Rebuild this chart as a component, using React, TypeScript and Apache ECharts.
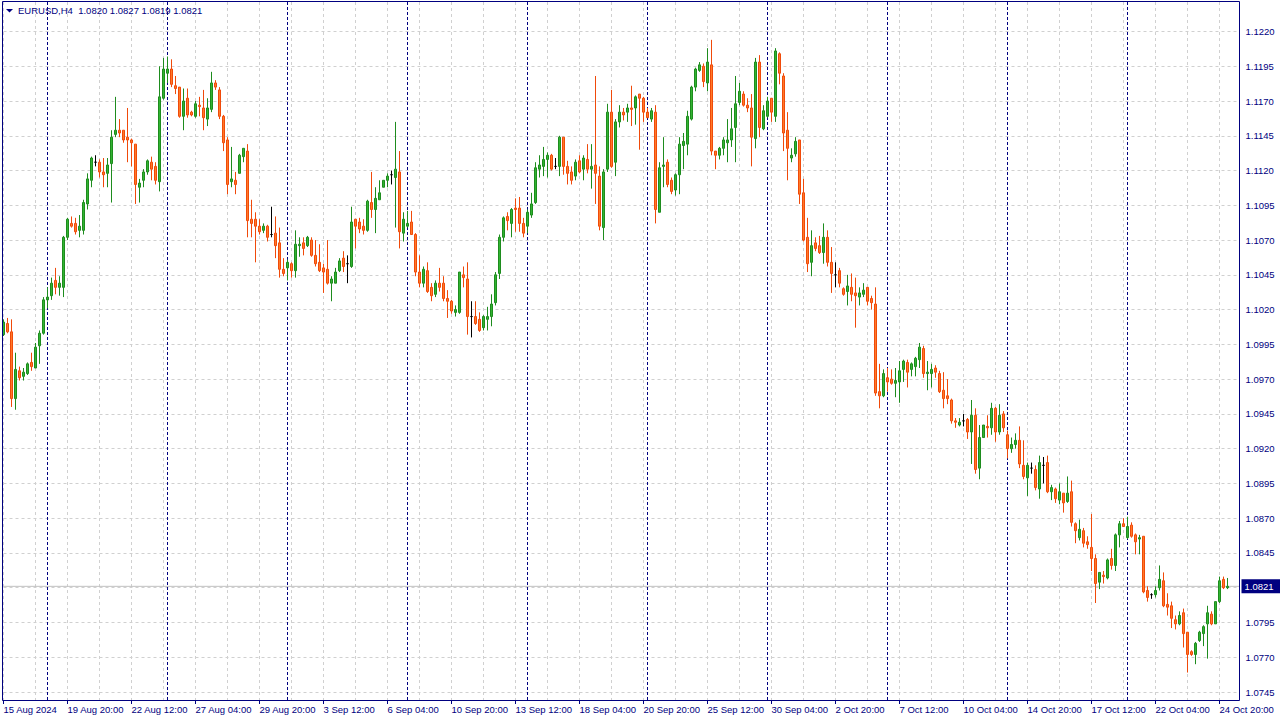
import React, { useEffect, useRef } from "react";
import * as echarts from "echarts";

const SYMBOL_TITLE = "EURUSD,H4";

const OPEN = [
  1.1002, 1.1010, 1.1004, 1.0956, 1.0976, 1.0972, 1.0974, 1.0982, 1.0978, 1.0994,
  1.1003, 1.1027, 1.1030, 1.1041, 1.1036, 1.1036, 1.1072, 1.1082, 1.1082, 1.1077,
  1.1077, 1.1096, 1.1113, 1.1126, 1.1126, 1.1119, 1.1118, 1.1125, 1.1146, 1.1149,
  1.1149, 1.1144, 1.1142, 1.1139, 1.1108, 1.1113, 1.1119, 1.1126, 1.1123, 1.1112,
  1.1172, 1.1190, 1.1193, 1.1181, 1.1180, 1.1159, 1.1172, 1.1162, 1.1159, 1.1167,
  1.1165, 1.1157, 1.1164, 1.1183, 1.1178, 1.1159, 1.1142, 1.1112, 1.1113, 1.1118,
  1.1130, 1.1134, 1.1085, 1.1085, 1.1080, 1.1077, 1.1080, 1.1074, 1.1075, 1.1068,
  1.1049, 1.1050, 1.1053, 1.1048, 1.1066, 1.1068, 1.1066, 1.1070, 1.1059, 1.1054,
  1.1050, 1.1049, 1.1039, 1.1039, 1.1048, 1.1057, 1.1053, 1.1051, 1.1085, 1.1083,
  1.1080, 1.1077, 1.1097, 1.1092, 1.1099, 1.1108, 1.1113, 1.1117, 1.1115, 1.1119,
  1.1075, 1.1080, 1.1083, 1.1074, 1.1047, 1.1039, 1.1048, 1.1036, 1.1031, 1.1039,
  1.1039, 1.1028, 1.1026, 1.1018, 1.1018, 1.1045, 1.1042, 1.1015, 1.1015, 1.1013,
  1.1007, 1.1013, 1.1015, 1.1025, 1.1046, 1.1072, 1.1087, 1.1082, 1.1093, 1.1093,
  1.1082, 1.1080, 1.1088, 1.1097, 1.1121, 1.1123, 1.1128, 1.1131, 1.1123, 1.1123,
  1.1144, 1.1123, 1.1119, 1.1116, 1.1127, 1.1121, 1.1128, 1.1121, 1.1124, 1.1116,
  1.1079, 1.1121, 1.1162, 1.1126, 1.1155, 1.1162, 1.1162, 1.1165, 1.1165, 1.1175,
  1.1172, 1.1162, 1.1157, 1.1162, 1.1090, 1.1123, 1.1126, 1.1113, 1.1106, 1.1117,
  1.1138, 1.1139, 1.1157, 1.1180, 1.1192, 1.1195, 1.1183, 1.1196, 1.1134, 1.1131,
  1.1136, 1.1140, 1.1142, 1.1151, 1.1169, 1.1175, 1.1167, 1.1165, 1.1143, 1.1198,
  1.1150, 1.1159, 1.1172, 1.1159, 1.1204, 1.1188, 1.1149, 1.1129, 1.1132, 1.1142,
  1.1104, 1.1072, 1.1054, 1.1068, 1.1066, 1.1061, 1.1072, 1.1054, 1.1045, 1.1048,
  1.1035, 1.1033, 1.1036, 1.1032, 1.1029, 1.1031, 1.1036, 1.1028, 1.1024, 1.0961,
  1.0958, 1.0971, 1.0970, 1.0967, 1.0968, 1.0977, 1.0982, 1.0977, 1.0979, 1.0984,
  1.0992, 1.0974, 1.0974, 1.0978, 1.0974, 1.0962, 1.0958, 1.0955, 1.0940, 1.0937,
  1.0940, 1.0941, 1.0932, 1.0944, 1.0906, 1.0928, 1.0936, 1.0935, 1.0949, 1.0932,
  1.0945, 1.0930, 1.0920, 1.0923, 1.0926, 1.0908, 1.0899, 1.0906, 1.0905, 1.0891,
  1.0908, 1.0910, 1.0889, 1.0891, 1.0883, 1.0888, 1.0882, 1.0889, 1.0866, 1.0856,
  1.0861, 1.0853, 1.0849, 1.0841, 1.0824, 1.0829, 1.0827, 1.0841, 1.0836, 1.0858,
  1.0866, 1.0856, 1.0865, 1.0858, 1.0855, 1.0857, 1.0818, 1.0815, 1.0815, 1.0820,
  1.0825, 1.0808, 1.0807, 1.0797, 1.0794, 1.0802, 1.0788, 1.0774, 1.0772, 1.0782,
  1.0787, 1.0794, 1.0801, 1.0794, 1.0810, 1.0826, 1.0820,
];

const HIGH = [
  1.1013, 1.1014, 1.1013, 1.0989, 1.0979, 1.0978, 1.0982, 1.0989, 1.0996, 1.1005,
  1.1029, 1.1036, 1.1043, 1.1050, 1.1044, 1.1073, 1.1086, 1.1087, 1.1086, 1.1088,
  1.1099, 1.1118, 1.1130, 1.1131, 1.1128, 1.1129, 1.1129, 1.1149, 1.1173, 1.1157,
  1.1149, 1.1165, 1.1143, 1.1139, 1.1114, 1.1121, 1.1128, 1.1130, 1.1126, 1.1195,
  1.1201, 1.1202, 1.1200, 1.1188, 1.1180, 1.1179, 1.1179, 1.1163, 1.1170, 1.1173,
  1.1178, 1.1172, 1.1191, 1.1185, 1.1180, 1.1160, 1.1144, 1.1137, 1.1119, 1.1132,
  1.1136, 1.1139, 1.1099, 1.1090, 1.1085, 1.1082, 1.1081, 1.1094, 1.1087, 1.1079,
  1.1057, 1.1056, 1.1054, 1.1077, 1.1072, 1.1072, 1.1073, 1.1072, 1.1070, 1.1067,
  1.1053, 1.1070, 1.1044, 1.1050, 1.1057, 1.1062, 1.1059, 1.1094, 1.1085, 1.1086,
  1.1085, 1.1099, 1.1119, 1.1108, 1.1113, 1.1113, 1.1118, 1.1120, 1.1155, 1.1134,
  1.1090, 1.1091, 1.1091, 1.1075, 1.1059, 1.1051, 1.1054, 1.1039, 1.1041, 1.1050,
  1.1044, 1.1034, 1.1027, 1.1023, 1.1047, 1.1051, 1.1054, 1.1026, 1.1026, 1.1018,
  1.1016, 1.1022, 1.1031, 1.1047, 1.1074, 1.1087, 1.1090, 1.1093, 1.1100, 1.1101,
  1.1086, 1.1092, 1.1104, 1.1126, 1.1131, 1.1137, 1.1133, 1.1132, 1.1129, 1.1145,
  1.1144, 1.1127, 1.1123, 1.1128, 1.1131, 1.1131, 1.1139, 1.1139, 1.1188, 1.1123,
  1.1121, 1.1168, 1.1178, 1.1157, 1.1167, 1.1165, 1.1168, 1.1181, 1.1174, 1.1175,
  1.1173, 1.1165, 1.1165, 1.1167, 1.1126, 1.1144, 1.1128, 1.1115, 1.1118, 1.1144,
  1.1147, 1.1163, 1.1181, 1.1194, 1.1198, 1.1197, 1.1208, 1.1214, 1.1134, 1.1137,
  1.1144, 1.1157, 1.1165, 1.1188, 1.1183, 1.1177, 1.1172, 1.1175, 1.1201, 1.1203,
  1.1167, 1.1173, 1.1172, 1.1208, 1.1205, 1.1190, 1.1162, 1.1136, 1.1144, 1.1142,
  1.1114, 1.1086, 1.1077, 1.1072, 1.1073, 1.1082, 1.1077, 1.1065, 1.1054, 1.1050,
  1.1036, 1.1045, 1.1046, 1.1043, 1.1036, 1.1039, 1.1036, 1.1030, 1.1036, 1.0981,
  1.0977, 1.0978, 1.0977, 1.0978, 1.0983, 1.0984, 1.0984, 1.0982, 1.0986, 1.0996,
  1.0994, 1.0983, 1.0981, 1.0980, 1.0976, 1.0975, 1.0970, 1.0956, 1.0942, 1.0942,
  1.0945, 1.0942, 1.0955, 1.0949, 1.0937, 1.0937, 1.0944, 1.0953, 1.0950, 1.0952,
  1.0947, 1.0933, 1.0928, 1.0931, 1.0936, 1.0926, 1.0910, 1.0910, 1.0908, 1.0915,
  1.0914, 1.0915, 1.0894, 1.0892, 1.0895, 1.0888, 1.0900, 1.0897, 1.0867, 1.0869,
  1.0863, 1.0857, 1.0873, 1.0844, 1.0831, 1.0832, 1.0841, 1.0848, 1.0859, 1.0868,
  1.0870, 1.0871, 1.0867, 1.0859, 1.0858, 1.0857, 1.0821, 1.0816, 1.0821, 1.0836,
  1.0831, 1.0816, 1.0810, 1.0800, 1.0803, 1.0805, 1.0788, 1.0775, 1.0781, 1.0789,
  1.0793, 1.0807, 1.0803, 1.0810, 1.0828, 1.0828, 1.0827,
];

const LOW = [
  1.1001, 1.1003, 1.0950, 1.0948, 1.0969, 1.0969, 1.0973, 1.0976, 1.0978, 1.0981,
  1.1002, 1.1021, 1.1027, 1.1031, 1.1030, 1.1029, 1.1070, 1.1079, 1.1074, 1.1072,
  1.1074, 1.1092, 1.1108, 1.1123, 1.1115, 1.1108, 1.1108, 1.1097, 1.1144, 1.1144,
  1.1140, 1.1126, 1.1123, 1.1096, 1.1097, 1.1108, 1.1117, 1.1113, 1.1110, 1.1105,
  1.1171, 1.1183, 1.1180, 1.1175, 1.1158, 1.1149, 1.1158, 1.1159, 1.1158, 1.1159,
  1.1149, 1.1152, 1.1162, 1.1178, 1.1157, 1.1134, 1.1103, 1.1108, 1.1103, 1.1118,
  1.1126, 1.1072, 1.1072, 1.1054, 1.1074, 1.1075, 1.1069, 1.1072, 1.1057, 1.1043,
  1.1044, 1.1041, 1.1043, 1.1043, 1.1058, 1.1059, 1.1065, 1.1058, 1.1051, 1.1047,
  1.1032, 1.1038, 1.1026, 1.1039, 1.1047, 1.1047, 1.1039, 1.1050, 1.1064, 1.1075,
  1.1074, 1.1076, 1.1086, 1.1075, 1.1099, 1.1108, 1.1108, 1.1110, 1.1079, 1.1064,
  1.1069, 1.1079, 1.1074, 1.1044, 1.1036, 1.1036, 1.1032, 1.1026, 1.1029, 1.1033,
  1.1026, 1.1014, 1.1017, 1.1015, 1.1017, 1.1036, 1.1002, 1.1000, 1.1009, 1.1004,
  1.1005, 1.1005, 1.1008, 1.1023, 1.1042, 1.1069, 1.1077, 1.1072, 1.1076, 1.1076,
  1.1072, 1.1075, 1.1086, 1.1096, 1.1115, 1.1116, 1.1115, 1.1120, 1.1121, 1.1116,
  1.1117, 1.1110, 1.1110, 1.1113, 1.1118, 1.1113, 1.1118, 1.1107, 1.1096, 1.1077,
  1.1070, 1.1119, 1.1122, 1.1116, 1.1151, 1.1156, 1.1155, 1.1152, 1.1153, 1.1135,
  1.1155, 1.1158, 1.1155, 1.1082, 1.1090, 1.1108, 1.1108, 1.1103, 1.1102, 1.1103,
  1.1121, 1.1131, 1.1156, 1.1177, 1.1191, 1.1180, 1.1177, 1.1131, 1.1121, 1.1128,
  1.1131, 1.1126, 1.1137, 1.1126, 1.1167, 1.1166, 1.1162, 1.1123, 1.1136, 1.1144,
  1.1149, 1.1158, 1.1155, 1.1155, 1.1182, 1.1134, 1.1113, 1.1126, 1.1130, 1.1096,
  1.1069, 1.1047, 1.1044, 1.1062, 1.1060, 1.1053, 1.1051, 1.1032, 1.1036, 1.1036,
  1.1030, 1.1023, 1.1026, 1.1007, 1.1023, 1.1029, 1.1023, 1.1020, 1.0958, 1.0949,
  1.0957, 1.0961, 1.0966, 1.0957, 1.0953, 1.0968, 1.0964, 1.0972, 1.0972, 1.0978,
  1.0971, 1.0962, 1.0964, 1.0971, 1.0960, 1.0949, 1.0952, 1.0938, 1.0935, 1.0936,
  1.0936, 1.0927, 1.0909, 1.0902, 1.0898, 1.0928, 1.0928, 1.0930, 1.0925, 1.0930,
  1.0932, 1.0913, 1.0917, 1.0920, 1.0906, 1.0898, 1.0886, 1.0902, 1.0890, 1.0884,
  1.0895, 1.0888, 1.0883, 1.0881, 1.0880, 1.0874, 1.0881, 1.0864, 1.0852, 1.0854,
  1.0849, 1.0848, 1.0832, 1.0809, 1.0819, 1.0823, 1.0826, 1.0833, 1.0832, 1.0849,
  1.0864, 1.0855, 1.0856, 1.0844, 1.0844, 1.0816, 1.0810, 1.0812, 1.0813, 1.0818,
  1.0806, 1.0800, 1.0791, 1.0790, 1.0793, 1.0777, 1.0759, 1.0771, 1.0765, 1.0781,
  1.0778, 1.0769, 1.0793, 1.0794, 1.0809, 1.0819, 1.0819,
];

const CLOSE = [
  1.1011, 1.1004, 1.0956, 1.0977, 1.0971, 1.0975, 1.0981, 1.0979, 1.0993, 1.1003,
  1.1027, 1.1029, 1.1039, 1.1036, 1.1039, 1.1072, 1.1085, 1.1080, 1.1076, 1.1080,
  1.1097, 1.1114, 1.1129, 1.1126, 1.1119, 1.1117, 1.1124, 1.1144, 1.1149, 1.1147,
  1.1142, 1.1142, 1.1140, 1.1110, 1.1111, 1.1119, 1.1127, 1.1121, 1.1113, 1.1173,
  1.1193, 1.1193, 1.1182, 1.1179, 1.1159, 1.1170, 1.1160, 1.1160, 1.1168, 1.1166,
  1.1158, 1.1165, 1.1183, 1.1180, 1.1159, 1.1140, 1.1110, 1.1114, 1.1110, 1.1131,
  1.1136, 1.1084, 1.1082, 1.1080, 1.1076, 1.1080, 1.1072, 1.1074, 1.1066, 1.1049,
  1.1046, 1.1054, 1.1048, 1.1067, 1.1067, 1.1064, 1.1072, 1.1059, 1.1053, 1.1048,
  1.1047, 1.1039, 1.1042, 1.1047, 1.1055, 1.1051, 1.1053, 1.1083, 1.1080, 1.1078,
  1.1077, 1.1098, 1.1092, 1.1100, 1.1104, 1.1113, 1.1116, 1.1117, 1.1121, 1.1076,
  1.1085, 1.1082, 1.1074, 1.1047, 1.1039, 1.1049, 1.1033, 1.1030, 1.1039, 1.1036,
  1.1028, 1.1026, 1.1019, 1.1020, 1.1047, 1.1043, 1.1015, 1.1015, 1.1010, 1.1005,
  1.1015, 1.1015, 1.1024, 1.1045, 1.1072, 1.1086, 1.1084, 1.1092, 1.1092, 1.1082,
  1.1075, 1.1090, 1.1096, 1.1122, 1.1124, 1.1128, 1.1131, 1.1121, 1.1123, 1.1144,
  1.1123, 1.1118, 1.1113, 1.1126, 1.1119, 1.1129, 1.1121, 1.1123, 1.1118, 1.1080,
  1.1119, 1.1162, 1.1123, 1.1155, 1.1162, 1.1160, 1.1165, 1.1164, 1.1173, 1.1172,
  1.1162, 1.1158, 1.1163, 1.1092, 1.1122, 1.1124, 1.1110, 1.1105, 1.1117, 1.1139,
  1.1141, 1.1159, 1.1180, 1.1193, 1.1196, 1.1184, 1.1198, 1.1134, 1.1131, 1.1136,
  1.1142, 1.1142, 1.1150, 1.1168, 1.1177, 1.1167, 1.1165, 1.1144, 1.1198, 1.1151,
  1.1163, 1.1170, 1.1162, 1.1206, 1.1190, 1.1147, 1.1136, 1.1131, 1.1141, 1.1103,
  1.1070, 1.1053, 1.1066, 1.1064, 1.1061, 1.1072, 1.1054, 1.1046, 1.1045, 1.1039,
  1.1031, 1.1037, 1.1031, 1.1030, 1.1032, 1.1034, 1.1026, 1.1025, 1.0960, 1.0958,
  1.0974, 1.0968, 1.0967, 1.0969, 1.0976, 1.0983, 1.0975, 1.0981, 1.0985, 1.0993,
  1.0974, 1.0975, 1.0977, 1.0975, 1.0961, 1.0956, 1.0956, 1.0940, 1.0939, 1.0939,
  1.0940, 1.0932, 1.0944, 1.0905, 1.0928, 1.0937, 1.0935, 1.0949, 1.0932, 1.0944,
  1.0935, 1.0920, 1.0923, 1.0926, 1.0909, 1.0900, 1.0908, 1.0906, 1.0892, 1.0910,
  1.0908, 1.0889, 1.0892, 1.0884, 1.0889, 1.0881, 1.0888, 1.0867, 1.0861, 1.0862,
  1.0852, 1.0851, 1.0841, 1.0823, 1.0831, 1.0828, 1.0840, 1.0836, 1.0858, 1.0866,
  1.0864, 1.0864, 1.0857, 1.0853, 1.0856, 1.0817, 1.0813, 1.0815, 1.0818, 1.0826,
  1.0807, 1.0806, 1.0798, 1.0794, 1.0800, 1.0787, 1.0772, 1.0772, 1.0780, 1.0788,
  1.0792, 1.0802, 1.0794, 1.0810, 1.0825, 1.0820, 1.0821,
];

// price scale ticks (right axis)
const Y_TICK_MIN = 1.0745;
const Y_TICK_MAX = 1.122;
const Y_TICK_STEP = 0.0025;

// time axis: H4 bars, first visible bar 15 Aug 2024 04:00, weekends skipped
const FIRST_BAR_UTC = Date.UTC(2024, 7, 15, 4, 0);
const BAR_HOURS = 4;
const EMPTY_BARS_RIGHT = 3;
const LABEL_EVERY_BARS = 16;
const VGRID_EVERY_BARS = 8;
const MONTHS = ["Jan", "Feb", "Mar", "Apr", "May", "Jun", "Jul", "Aug", "Sep", "Oct", "Nov", "Dec"];

const NAVY = "#000080";
const GRID_GREY = "#d0d0d0";
const BULL_FILL = "#32b432";
const BULL_LINE = "#1e8c1e";
const BEAR_FILL = "#ff7a28";
const BEAR_LINE = "#f04a0a";
const FONT = '"Liberation Sans", Arial, sans-serif';
const FS = 9.5;

function pad2(n: number) {
  return n < 10 ? "0" + n : "" + n;
}

function buildTimes(count: number): number[] {
  const out: number[] = [];
  let t = FIRST_BAR_UTC;
  while (out.length < count) {
    const wd = new Date(t).getUTCDay();
    if (wd !== 0 && wd !== 6) out.push(t);
    t += BAR_HOURS * 3600 * 1000;
  }
  return out;
}

function fmtTime(t: number) {
  const d = new Date(t);
  return `${d.getUTCDate()} ${MONTHS[d.getUTCMonth()]} ${pad2(d.getUTCHours())}:${pad2(d.getUTCMinutes())}`;
}

function fmtDateYear(t: number) {
  const d = new Date(t);
  return `${d.getUTCDate()} ${MONTHS[d.getUTCMonth()]} ${d.getUTCFullYear()}`;
}

export default function App() {
  const ref = useRef<HTMLDivElement>(null);

  useEffect(() => {
    document.body.style.margin = "0";
    if (!ref.current) return;
    const chart = echarts.init(ref.current, undefined, { renderer: "svg" });

    const nBars = OPEN.length;
    const total = nBars + EMPTY_BARS_RIGHT;
    const times = buildTimes(total);
    const cats = times.map(fmtTime);
    const candles = OPEN.map((o, i) => [o, CLOSE[i], LOW[i], HIGH[i]]);
    const last = nBars - 1;
    const lastClose = CLOSE[last];

    const LEFT = 3.5;
    const STEP = 4;
    const plotW = (total - 1) * STEP;
    const RIGHT = 1280 - LEFT - plotW;

    const isWeekStart = (i: number) => {
      const d = new Date(times[i]);
      return d.getUTCDay() === 1 && d.getUTCHours() === 0;
    };
    const isLabel = (i: number) => i % LABEL_EVERY_BARS === 0 && i < nBars;

    const header = `${SYMBOL_TITLE}  ${OPEN[last].toFixed(4)} ${HIGH[last].toFixed(4)} ${LOW[last].toFixed(4)} ${CLOSE[last].toFixed(4)}`;

    const option: any = {
      animation: false,
      backgroundColor: "#ffffff",
      textStyle: { fontFamily: FONT },
      grid: [
        { left: LEFT, right: RIGHT, top: 31.5, bottom: 28, show: false },
        { left: LEFT, right: RIGHT, top: 2, bottom: 20, show: false },
      ],
      xAxis: [
        {
          gridIndex: 0,
          type: "category",
          data: cats,
          boundaryGap: false,
          show: false,
        },
        {
          gridIndex: 1,
          type: "category",
          data: cats,
          boundaryGap: false,
          position: "bottom",
          axisLine: { show: false },
          axisTick: {
            show: true,
            interval: (i: number) => isLabel(i),
            length: 4,
            lineStyle: { color: NAVY },
          },
          axisLabel: {
            show: true,
            interval: (i: number) => isLabel(i),
            align: "left",
            margin: 4,
            color: NAVY,
            fontSize: FS,
            fontFamily: FONT,
            formatter: (v: string, i: number) => (i === 0 ? fmtDateYear(times[0]) : v),
          },
          splitLine: {
            show: true,
            interval: (i: number) => i % VGRID_EVERY_BARS === 0,
            lineStyle: { color: GRID_GREY, type: [3, 3], width: 1 },
          },
        },
        {
          gridIndex: 1,
          type: "category",
          data: cats,
          boundaryGap: false,
          position: "top",
          axisLine: { show: false },
          axisTick: { show: false },
          axisLabel: { show: false },
          splitLine: {
            show: true,
            interval: (i: number) => isWeekStart(i),
            lineStyle: { color: NAVY, type: [3, 2], width: 1 },
          },
        },
      ],
      yAxis: [
        {
          gridIndex: 0,
          type: "value",
          position: "right",
          min: Y_TICK_MIN,
          max: Y_TICK_MAX,
          interval: Y_TICK_STEP,
          axisLine: { show: false },
          axisTick: { show: false },
          axisLabel: {
            color: NAVY,
            fontSize: FS,
            fontFamily: FONT,
            margin: 6,
            formatter: (v: number) => v.toFixed(4),
          },
          splitLine: { show: true, lineStyle: { color: GRID_GREY, type: [3, 3], width: 1 } },
        },
        { gridIndex: 1, type: "value", min: 0, max: 1, show: false },
      ],
      series: [
        {
          type: "line",
          name: "bid",
          xAxisIndex: 0,
          yAxisIndex: 0,
          z: 1,
          silent: true,
          symbol: "none",
          clip: false,
          data: [
            [0, lastClose],
            [total - 1, lastClose],
          ],
          lineStyle: { color: "#c0c0c0", type: "solid", width: 1 },
          endLabel: {
            show: true,
            distance: 2,
            formatter: () => lastClose.toFixed(4),
            backgroundColor: NAVY,
            color: "#ffffff",
            fontSize: FS,
            fontFamily: FONT,
            lineHeight: 11,
            padding: [2, 8, 1, 3],
          },
        },
        {
          type: "candlestick",
          xAxisIndex: 0,
          yAxisIndex: 0,
          z: 2,
          data: candles,
          barWidth: 2,
          clip: false,
          itemStyle: {
            color: BULL_FILL,
            color0: BEAR_FILL,
            borderColor: BULL_LINE,
            borderColor0: BEAR_LINE,
            borderColorDoji: "#000000",
            borderWidth: 1,
          },
        },
      ],
      graphic: [
        {
          type: "rect",
          silent: true,
          z: 100,
          shape: { x: 2.5, y: 1.5, width: 1237, height: 699 },
          style: { fill: "none", stroke: NAVY, lineWidth: 1 },
        },
        {
          type: "polygon",
          silent: true,
          z: 100,
          shape: { points: [[6, 9], [13, 9], [9.5, 12.5]] },
          style: { fill: NAVY },
        },
        {
          type: "text",
          silent: true,
          z: 100,
          x: 18,
          y: 5,
          style: { text: header, fill: NAVY, fontSize: 9.5, fontFamily: FONT },
        },
      ],
    };

    chart.setOption(option);
    return () => chart.dispose();
  }, []);

  return (
    <div
      ref={ref}
      style={{ position: "absolute", left: 0, top: 0, width: 1280, height: 720, background: "#fff" }}
    />
  );
}
